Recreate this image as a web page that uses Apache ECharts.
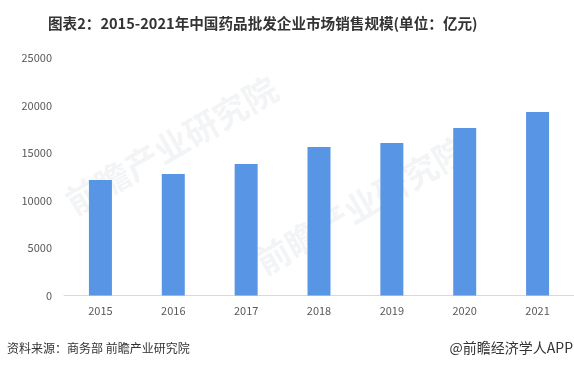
<!DOCTYPE html>
<html>
<head>
<meta charset="utf-8">
<script src="https://cdn.jsdelivr.net/npm/echarts@6/dist/echarts.min.js"></script>
<style>html,body{margin:0;padding:0;background:#fff;}#c{width:574px;height:370px;}</style>
</head>
<body>
<div id="c"></div>
<script>
const titleText = '图表2：2015-2021年中国药品批发企业市场销售规模(单位：亿元)';
const sourceText = '资料来源：商务部 前瞻产业研究院';
const creditText = '@前瞻经济学人APP';
const years = ['2015', '2016', '2017', '2018', '2019', '2020', '2021'];
const sales = [12160, 12790, 13850, 15630, 16060, 17630, 19320];
const yTicks = [0, 5000, 10000, 15000, 20000, 25000];

const chart = echarts.init(document.getElementById('c'), null, {renderer: 'canvas'});
const fontFamily = '"Microsoft YaHei","Noto Sans CJK SC",sans-serif';
chart.setOption({
  animation: false,
  backgroundColor: '#fff',
  title: {
    text: titleText,
    left: 43, top: 11,
    textStyle: {fontSize: 14.6, fontWeight: 'bold', color: '#333', fontFamily: fontFamily}
  },
  graphic: [
    {type: 'text', left: 7, top: 342, style: {text: sourceText, fontSize: 12, fill: '#333', fontFamily: fontFamily}},
    {type: 'text', right: 1, top: 341, style: {text: creditText, fontSize: 14, fill: '#333', fontFamily: fontFamily}},
    {type: 'text', x: 250, y: 250, rotation: Math.PI/6, z: -1, style: {text: '前瞻产业研究院', fontSize: 34, fontWeight: 'bold', fill: 'rgba(200,205,212,0.22)', fontFamily: fontFamily}},
    {type: 'text', x: 60, y: 190, rotation: Math.PI/6, z: -1, style: {text: '前瞻产业研究院', fontSize: 34, fontWeight: 'bold', fill: 'rgba(200,205,212,0.22)', fontFamily: fontFamily}}
  ],
  grid: {left: 64, right: -2, top: 58, bottom: 74.5, containLabel: false},
  xAxis: {
    type: 'category',
    data: years,
    axisLine: {show: true, lineStyle: {color: '#d9d9d9', width: 1}},
    axisTick: {show: false},
    axisLabel: {color: '#595959', fontSize: 11, margin: 10, fontFamily: fontFamily}
  },
  yAxis: {
    type: 'value',
    min: 0, max: yTicks[yTicks.length - 1], interval: 5000,
    axisLine: {show: false},
    axisTick: {show: false},
    splitLine: {show: false},
    axisLabel: {color: '#595959', fontSize: 11, margin: 12, fontFamily: fontFamily, formatter: v => String(v)}
  },
  series: [{
    type: 'bar',
    data: sales,
    barWidth: 23,
    itemStyle: {color: '#5995E5'}
  }]
});
</script>
</body>
</html>
